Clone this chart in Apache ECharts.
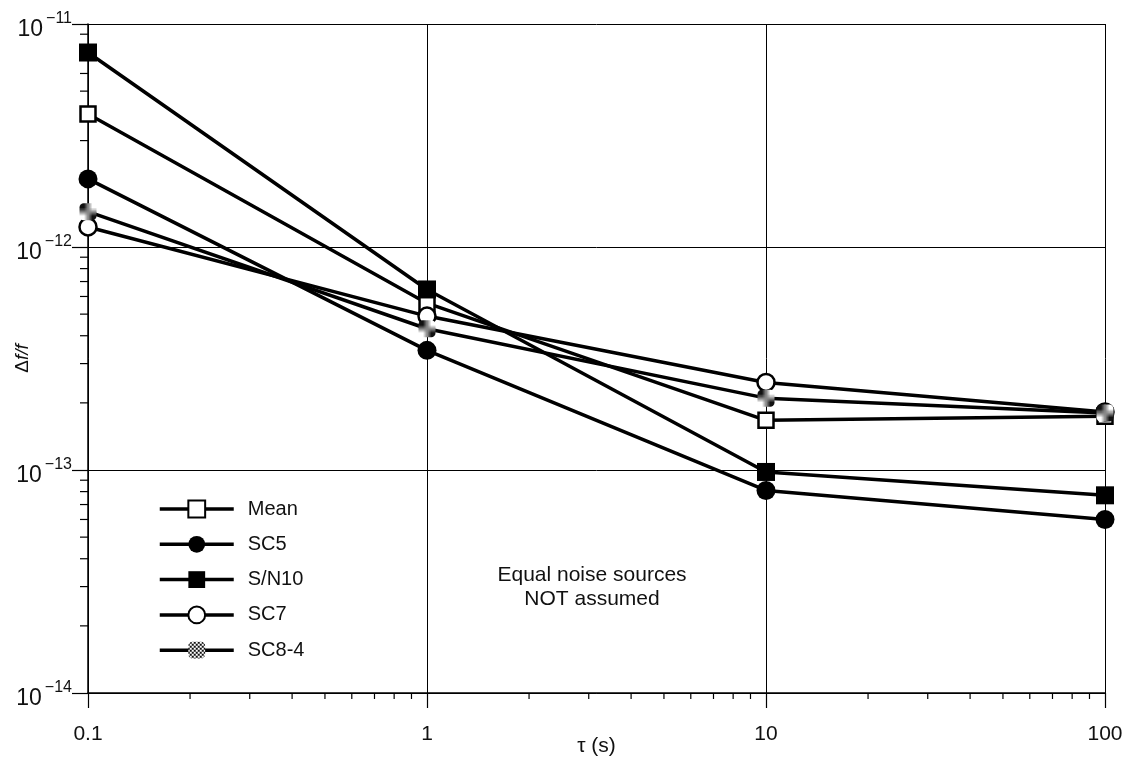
<!DOCTYPE html>
<html>
<head>
<meta charset="utf-8">
<script src="https://cdn.jsdelivr.net/npm/echarts@6/dist/echarts.min.js"></script>
<style>
  html, body { margin: 0; padding: 0; background: #fff; }
  #main { width: 1127px; height: 761px; }
</style>
</head>
<body>
<div id="main"></div>
<script>
// averaging times (s)
const tau = [0.1, 1, 10, 100]
// delta f / f for each source
const meanVals = [3.95e-12, 5.6e-13, 1.67e-13, 1.74e-13]
const sc5Vals = [2.02e-12, 3.44e-13, 8.1e-14, 6.0e-14]
const sn10Vals = [7.45e-12, 6.45e-13, 9.8e-14, 7.7e-14]
const sc7Vals = [1.23e-12, 4.9e-13, 2.47e-13, 1.82e-13]
const sc84Vals = [1.44e-12, 4.3e-13, 2.1e-13, 1.8e-13]
const seriesNames = ['Mean', 'SC5', 'S/N10', 'SC7', 'SC8-4']
// minor tick positions (2..9 in each decade)
const xMinor = [0.2, 0.3, 0.4, 0.5, 0.6, 0.7, 0.8, 0.9, 2, 3, 4, 5, 6, 7, 8, 9, 20, 30, 40, 50, 60, 70, 80, 90]
const yMinor = [2e-14, 3e-14, 4e-14, 5e-14, 6e-14, 7e-14, 8e-14, 9e-14,
  2e-13, 3e-13, 4e-13, 5e-13, 6e-13, 7e-13, 8e-13, 9e-13,
  2e-12, 3e-12, 4e-12, 5e-12, 6e-12, 7e-12, 8e-12, 9e-12]

const FONT = 'Liberation Sans'

// checkered fill used for SC8-4 markers
const patCanvas = document.createElement('canvas')
patCanvas.width = 4
patCanvas.height = 4
const pctx = patCanvas.getContext('2d')
pctx.fillStyle = '#fff'
pctx.fillRect(0, 0, 4, 4)
pctx.fillStyle = '#111'
pctx.fillRect(0, 0, 2, 2)
pctx.fillRect(2, 2, 2, 2)
const checker = { image: patCanvas, repeat: 'repeat' }

const pairs = vals => tau.map((t, i) => [t, vals[i]])

const mkLine = (name, vals, symbol, size, fill) => ({
  name: name,
  type: 'line',
  data: pairs(vals),
  symbol: symbol,
  symbolSize: size,
  showSymbol: true,
  z: 3,
  lineStyle: { color: '#000', width: 3.5 },
  itemStyle: { color: fill, borderColor: '#000', borderWidth: fill === '#fff' ? 2.5 : 0, opacity: 1 },
  emphasis: { disabled: true },
})

const chart = echarts.init(document.getElementById('main'))

const supFmt = v => {
  const e = Math.round(Math.log10(v))
  return '{b|10}{s|\u2212' + Math.abs(e) + '}'
}

const option = {
  animation: false,
  backgroundColor: '#fff',
  grid: { left: 88, right: 22, top: 24, bottom: 68, outerBoundsMode: 'none', containLabel: false },
  legend: {
    orient: 'vertical',
    left: 158,
    top: 499,
    padding: 0,
    itemWidth: 74,
    itemHeight: 21,
    itemGap: 15.3,
    data: seriesNames,
    lineStyle: { width: 3.5, color: '#000' },
    textStyle: { fontFamily: FONT, fontSize: 20, color: '#111', padding: [0, 0, 0, 9] },
  },
  xAxis: {
    type: 'log',
    logBase: 10,
    min: 0.1,
    max: 100,
    name: '\u03c4 (s)',
    nameLocation: 'middle',
    nameGap: 43,
    nameMoveOverlap: false,
    nameTextStyle: { fontFamily: FONT, fontSize: 21, color: '#111' },
    axisLine: { lineStyle: { color: '#000', width: 1.5 } },
    axisTick: { show: true, inside: false, length: 15, lineStyle: { color: '#000', width: 1.2 } },
    axisLabel: {
      fontFamily: FONT, fontSize: 21, color: '#111', margin: 31,
      formatter: v => (v < 1 ? String(v) : String(Math.round(v))),
    },
    splitLine: { show: true, lineStyle: { color: '#000', width: 1 } },
  },
  yAxis: {
    type: 'log',
    logBase: 10,
    min: 1e-14,
    max: 1e-11,
    name: '{d|\u0394}{f|f/f}',
    nameLocation: 'middle',
    nameGap: 56,
    nameRotate: 90,
    nameMoveOverlap: false,
    nameTextStyle: {
      rich: {
        d: { fontFamily: FONT, fontSize: 19, color: '#111' },
        f: { fontFamily: FONT, fontSize: 19, fontStyle: 'italic', color: '#111' },
      },
    },
    axisLine: { lineStyle: { color: '#000', width: 1.5 } },
    axisTick: { show: true, inside: false, length: 16, lineStyle: { color: '#000', width: 1.2 } },
    axisLabel: {
      margin: 16,
      formatter: supFmt,
      rich: {
        b: { fontFamily: FONT, fontSize: 23, color: '#111', padding: [12, 0, 0, 0] },
        s: { fontFamily: FONT, fontSize: 16, color: '#111', padding: [0, 0, 10, 3] },
      },
    },
    splitLine: { show: true, lineStyle: { color: '#000', width: 1 } },
  },
  graphic: [
    {
      type: 'text',
      x: 592,
      y: 563,
      style: {
        text: 'Equal noise sources\nNOT assumed',
        fontFamily: FONT,
        fontSize: 21,
        lineHeight: 24,
        fill: '#111',
        align: 'center',
      },
    },
  ],
  series: [
    mkLine('Mean', meanVals, 'rect', 15, '#fff'),
    mkLine('SC5', sc5Vals, 'circle', 19, '#000'),
    mkLine('S/N10', sn10Vals, 'rect', 18, '#000'),
    mkLine('SC7', sc7Vals, 'circle', 17, '#fff'),
    mkLine('SC8-4', sc84Vals, 'roundRect', 17, checker),
    {
      // minor ticks on the x axis (pointing down)
      name: 'xminor',
      type: 'custom',
      silent: true,
      clip: false,
      data: xMinor.map(v => [v, 1e-14]),
      renderItem: (params, api) => {
        const p = api.coord([api.value(0), api.value(1)])
        return {
          type: 'line',
          shape: { x1: p[0], y1: p[1], x2: p[0], y2: p[1] + 6 },
          style: { stroke: '#000', lineWidth: 1.2 },
        }
      },
    },
    {
      // minor ticks on the y axis (pointing left)
      name: 'yminor',
      type: 'custom',
      silent: true,
      clip: false,
      data: yMinor.map(v => [0.1, v]),
      renderItem: (params, api) => {
        const p = api.coord([api.value(0), api.value(1)])
        return {
          type: 'line',
          shape: { x1: p[0] - 8, y1: p[1], x2: p[0], y2: p[1] },
          style: { stroke: '#000', lineWidth: 1.2 },
        }
      },
    },
  ],
}

chart.setOption(option)
</script>
</body>
</html>
